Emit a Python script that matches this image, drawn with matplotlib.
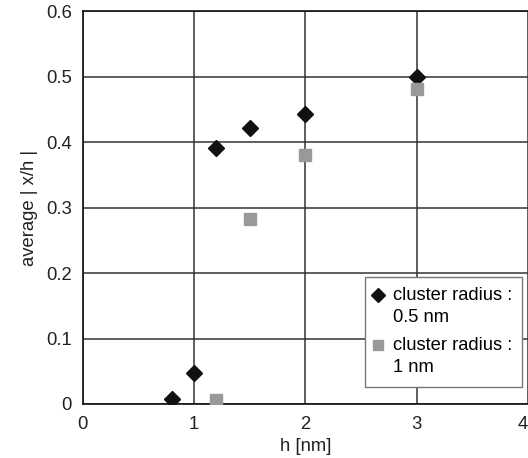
import matplotlib.pyplot as plt
from matplotlib.ticker import FuncFormatter
from matplotlib.legend_handler import HandlerLine2D

plt.rcParams['font.family'] = ['Liberation Sans', 'DejaVu Sans']

# data
h_small = [0.8, 1.0, 1.2, 1.5, 2.0, 3.0]
avg_small = [0.008, 0.047, 0.392, 0.422, 0.443, 0.500]
h_large = [1.2, 1.5, 2.0, 3.0]
avg_large = [0.006, 0.282, 0.380, 0.481]
labels = ["cluster radius :\n0.5 nm", "cluster radius :\n1 nm"]

FS = 13.3
LEG_FS = 13.2


class TopHandler(HandlerLine2D):
    # put the marker next to the first line of a two-line label
    def create_artists(self, legend, orig_handle, xdescent, ydescent,
                       width, height, fontsize, trans):
        return super().create_artists(legend, orig_handle, xdescent,
                                      ydescent - 1.3 * fontsize,
                                      width, height, fontsize, trans)


fig = plt.figure(figsize=(5.28, 4.58), dpi=100)
ax = fig.add_axes([0.157, 0.118, 0.843, 0.857])

ax.plot(h_small, avg_small, linestyle='none', marker='D', ms=8,
        color='#111111', label=labels[0], zorder=3)
ax.plot(h_large, avg_large, linestyle='none', marker='s', ms=8.5,
        color='#999999', label=labels[1], zorder=3)

ax.set_xlim(0, 4)
ax.set_ylim(0, 0.6)
ax.set_xticks([0, 1, 2, 3, 4])
ax.set_yticks([0, 0.1, 0.2, 0.3, 0.4, 0.5, 0.6])
fmt = FuncFormatter(lambda v, p: '%g' % v)
ax.xaxis.set_major_formatter(fmt)
ax.yaxis.set_major_formatter(fmt)
ax.tick_params(length=0, labelsize=FS, colors='#222222')
ax.tick_params(axis='y', pad=8)
ax.tick_params(axis='x', pad=9)
ax.get_xticklabels()[-1].set_horizontalalignment('right')

ax.grid(True, color='#333333', linewidth=1.1)
for s in ['left', 'bottom', 'top']:
    ax.spines[s].set_color('#111111')
    ax.spines[s].set_linewidth(1.2)
ax.spines['right'].set_visible(False)

ax.set_xlabel('h [nm]', fontsize=FS, labelpad=3, color='#222222')
ax.set_ylabel('average | x/h |', fontsize=FS, labelpad=6, color='#222222')

leg = ax.legend(loc='upper left', bbox_to_anchor=(0.634, 0.324),
                fontsize=LEG_FS, frameon=True, fancybox=False,
                edgecolor='#777777', framealpha=1, borderpad=0.56,
                handlelength=0.3, handletextpad=0.65, labelspacing=0.6,
                borderaxespad=0,
                handler_map={ax.lines[0]: TopHandler(),
                             ax.lines[1]: TopHandler()})
leg.get_frame().set_linewidth(1.0)
for t in leg.get_texts():
    t.set_linespacing(1.4)
leg.legend_handles[0].set_markersize(7)
leg.legend_handles[1].set_markersize(7.5)

fig.savefig('out.png', dpi=100)
